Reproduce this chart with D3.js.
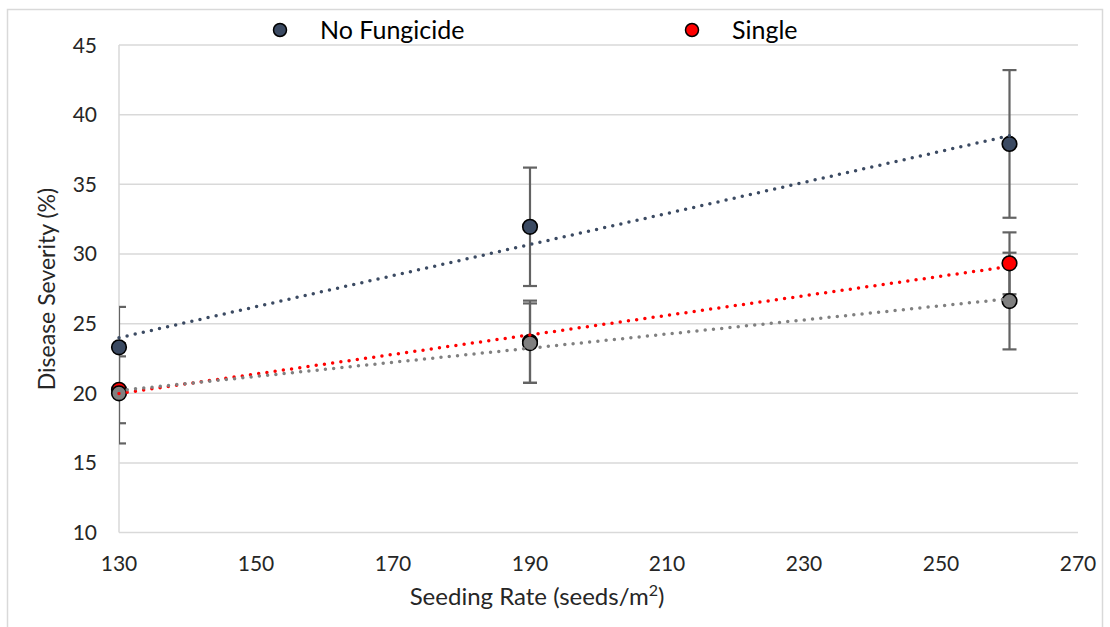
<!DOCTYPE html>
<html>
<head>
<meta charset="utf-8">
<script src="https://cdn.jsdelivr.net/npm/d3@7"></script>
<style>
  html, body { margin: 0; padding: 0; background: #fff; }
  svg { display: block; }
</style>
</head>
<body>
<div id="chart"></div>
<script>
// Datos
const seedingRates = [130, 190, 260];
const noFungicide = [23.3, 31.95, 37.9];
const noFungicideErr = [2.9, 4.25, 5.3];
const single = [20.25, 23.7, 29.33];
const singleErr = [2.4, 2.95, 2.22];
const third = [20.0, 23.6, 26.62];
const thirdErr = [3.6, 2.85, 3.47];
const xTicks = [130, 150, 170, 190, 210, 230, 250, 270];
const yTicks = [10, 15, 20, 25, 30, 35, 40, 45];

const series = [
    { name: 'No Fungicide', values: noFungicide, err: noFungicideErr, color: '#3b4a62', legend: true },
    { name: 'Single', values: single, err: singleErr, color: '#ff0000', legend: true },
    { name: '', values: third, err: thirdErr, color: '#808080', legend: false }
];

const width = 1110, height = 627;
const svg = d3.select('#chart').append('svg')
    .attr('width', width)
    .attr('height', height);

// Marco exterior
svg.append('rect')
    .attr('x', 7.5).attr('y', 9.5)
    .attr('width', 1095).attr('height', 640)
    .attr('fill', 'none')
    .attr('stroke', '#d9d9d9')
    .attr('stroke-width', 1.5);

const x = d3.scaleLinear().domain([130, 270]).range([119, 1078]);
const y = d3.scaleLinear().domain([10, 45]).range([532.6, 45]);

// Líneas de cuadrícula
svg.append('g')
    .selectAll('line')
    .data(yTicks)
    .join('line')
    .attr('x1', x(130)).attr('x2', x(270))
    .attr('y1', d => y(d)).attr('y2', d => y(d))
    .attr('stroke', '#d9d9d9')
    .attr('stroke-width', 1.5);

svg.append('line')
    .attr('x1', x(130)).attr('x2', x(130))
    .attr('y1', y(45)).attr('y2', y(10))
    .attr('stroke', '#d9d9d9')
    .attr('stroke-width', 1.5);

// Etiquetas de ejes
const labelFont = 'Lato, "Open Sans", sans-serif';

svg.append('g')
    .selectAll('text')
    .data(yTicks)
    .join('text')
    .attr('x', 97)
    .attr('y', d => y(d) + 7.5)
    .attr('text-anchor', 'end')
    .attr('font-family', labelFont)
    .attr('font-size', 21)
    .attr('fill', '#262626')
    .text(d => d);

svg.append('g')
    .selectAll('text')
    .data(xTicks)
    .join('text')
    .attr('x', d => x(d))
    .attr('y', 571)
    .attr('text-anchor', 'middle')
    .attr('font-family', labelFont)
    .attr('font-size', 21)
    .attr('fill', '#262626')
    .text(d => d);

const xTitle = svg.append('text')
    .attr('x', 537)
    .attr('y', 605)
    .attr('text-anchor', 'middle')
    .attr('font-family', labelFont)
    .attr('font-size', 24)
    .attr('fill', '#262626');
xTitle.append('tspan').text('Seeding Rate (seeds/m');
xTitle.append('tspan').attr('dy', -9).attr('font-size', 16).text('2');
xTitle.append('tspan').attr('dy', 9).text(')');

svg.append('text')
    .attr('transform', 'translate(55,289) rotate(-90)')
    .attr('text-anchor', 'middle')
    .attr('font-family', labelFont)
    .attr('font-size', 23)
    .attr('fill', '#262626')
    .text('Disease Severity (%)');

// Barras de error (recortadas al área del gráfico)
svg.append('clipPath').attr('id', 'plot-clip')
    .append('rect')
    .attr('x', x(130)).attr('y', 0)
    .attr('width', x(270) - x(130)).attr('height', height);

const errG = svg.append('g').attr('clip-path', 'url(#plot-clip)');
series.forEach(s => {
    s.values.forEach((v, i) => {
        const cx = x(seedingRates[i]);
        const top = y(v + s.err[i]);
        const bottom = y(v - s.err[i]);
        errG.append('line')
            .attr('x1', cx).attr('x2', cx)
            .attr('y1', top).attr('y2', bottom)
            .attr('stroke', '#636363').attr('stroke-width', 2.2);
        [top, bottom].forEach(yy => {
            errG.append('line')
                .attr('x1', cx - 7).attr('x2', cx + 7)
                .attr('y1', yy).attr('y2', yy)
                .attr('stroke', '#636363').attr('stroke-width', 2.2);
        });
    });
});

// Marcadores
series.forEach(s => {
    svg.append('g')
        .selectAll('circle')
        .data(s.values)
        .join('circle')
        .attr('cx', (d, i) => x(seedingRates[i]))
        .attr('cy', d => y(d))
        .attr('r', 7.3)
        .attr('fill', s.color)
        .attr('stroke', '#000')
        .attr('stroke-width', 1.6);
});

// Líneas de tendencia lineales (mínimos cuadrados)
function linearFit(xs, ys) {
    const mx = d3.mean(xs), my = d3.mean(ys);
    let sxy = 0, sxx = 0;
    xs.forEach((xv, i) => {
        sxy += (xv - mx) * (ys[i] - my);
        sxx += (xv - mx) * (xv - mx);
    });
    const slope = sxy / sxx;
    return xv => my + slope * (xv - mx);
}

series.forEach(s => {
    const fit = linearFit(seedingRates, s.values);
    const ends = [130, 260];
    svg.append('line')
        .attr('x1', x(ends[0])).attr('y1', y(fit(ends[0])))
        .attr('x2', x(ends[1])).attr('y2', y(fit(ends[1])))
        .attr('stroke', s.color)
        .attr('stroke-width', 3.5)
        .attr('stroke-linecap', 'round')
        .attr('stroke-dasharray', '0,8.3');
});

// Leyenda
const legendItems = series.filter(s => s.legend);
const legendX = [280, 692];
legendItems.forEach((s, i) => {
    svg.append('circle')
        .attr('cx', legendX[i]).attr('cy', 30)
        .attr('r', 6.5)
        .attr('fill', s.color)
        .attr('stroke', '#000')
        .attr('stroke-width', 1.5);
    svg.append('text')
        .attr('x', legendX[i] + 40)
        .attr('y', 39)
        .attr('font-family', labelFont)
        .attr('font-size', 25)
        .attr('fill', '#000')
        .text(s.name);
});
</script>
</body>
</html>
